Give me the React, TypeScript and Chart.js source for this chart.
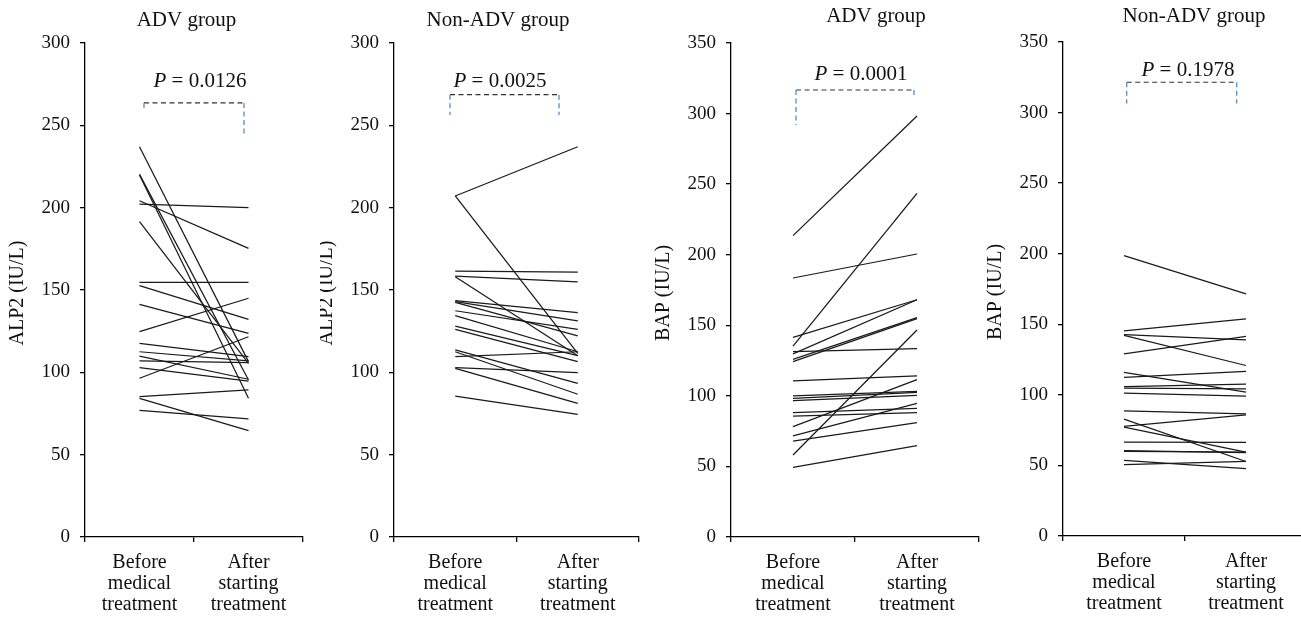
import React, { useEffect, useRef } from 'react';
import { Chart, registerables } from 'chart.js';

Chart.register(...registerables);

const FONT = '"Liberation Serif", "Times New Roman", serif';

// Category labels (x axis)
const categories = [
  ['Before', 'medical', 'treatment'],
  ['After', 'starting', 'treatment'],
];

// ALP2 (IU/L), ADV group
const alpAdvBefore = [237.0, 220.2, 219.8, 204.2, 202.2, 191.5, 154.7, 152.6, 141.3, 124.7, 117.6, 112.5, 109.9, 106.9, 102.8, 96.4, 85.2, 84.2, 76.9];
const alpAdvAfter = [106.5, 95.3, 84.2, 175.3, 200.0, 105.5, 154.7, 132.2, 123.7, 145.0, 109.5, 107.0, 95.8, 105.9, 94.7, 121.6, 89.3, 64.6, 71.7];

// ALP2 (IU/L), Non-ADV group
const alpNonBefore = [207.1, 207.1, 161.5, 158.5, 158.1, 143.5, 142.9, 142.5, 137.4, 134.4, 128.1, 126.1, 113.6, 112.5, 109.5, 102.8, 102.4, 85.6];
const alpNonAfter = [237.0, 111.5, 160.9, 155.0, 110.1, 136.2, 131.2, 122.1, 126.1, 112.5, 110.1, 106.5, 93.3, 86.7, 112.5, 99.8, 81.2, 74.5];

// BAP (IU/L), ADV group
const bapAdvBefore = [213.5, 183.5, 141.5, 135.3, 131.3, 129.7, 125.9, 124.2, 110.7, 99.9, 98.3, 96.6, 88.1, 85.7, 78.2, 71.6, 68.0, 58.1, 49.4];
const bapAdvAfter = [298.3, 200.5, 168.1, 243.5, 133.4, 168.1, 155.4, 154.7, 114.1, 103.2, 102.5, 100.4, 91.2, 88.1, 111.5, 94.7, 81.0, 146.7, 64.7];

// BAP (IU/L), Non-ADV group
const bapNonBefore = [198.7, 145.4, 142.6, 142.1, 129.1, 115.9, 112.3, 105.9, 104.7, 101.2, 88.7, 82.8, 77.6, 77.1, 66.5, 60.4, 59.9, 53.5, 50.5];
const bapNonAfter = [171.6, 153.9, 139.0, 120.8, 141.4, 101.9, 116.6, 107.6, 104.3, 99.1, 86.6, 52.8, 85.9, 59.4, 66.3, 59.0, 59.4, 47.7, 52.8];

// Panel texts
const panelTitles = ['ADV group', 'Non-ADV group', 'ADV group', 'Non-ADV group'];
const yTitles = ['ALP2 (IU/L)', 'ALP2 (IU/L)', 'BAP (IU/L)', 'BAP (IU/L)'];
const pValues = ['0.0126', '0.0025', '0.0001', '0.1978'];
const yMaxes = [300, 300, 350, 350];

type Layout = {
  cl: number; cw: number; axisL: number; axisR: number; top: number; bottom: number;
  titleX: number; titleBase: number; pX: number; pBase: number; yTitleX: number;
  bTop: number; bLeft: number; bRight: number; bdxL: number; bdxR: number;
};

const layouts: Layout[] = [
  { cl: 0, cw: 330, axisL: 85, axisR: 303, top: 43, bottom: 537, titleX: 186.5, titleBase: 26, pX: 200, pBase: 87, yTitleX: 18,
    bTop: 263.6, bLeft: 259.3, bRight: 243.7, bdxL: 4.5, bdxR: -4.5 },
  { cl: 320, cw: 330, axisL: 394, axisR: 639, top: 43, bottom: 537, titleX: 498, titleBase: 26, pX: 500, pBase: 87, yTitleX: 327,
    bTop: 268.6, bLeft: 256.3, bRight: 256.3, bdxL: -5.25, bdxR: -18.75 },
  { cl: 650, cw: 340, axisL: 731, axisR: 979, top: 43, bottom: 537, titleX: 876, titleBase: 21.7, pX: 861, pBase: 80, yTitleX: 664,
    bTop: 316.7, bLeft: 291.9, bRight: 311.0, bdxL: 3, bdxR: -3 },
  { cl: 980, cw: 330, axisL: 1063, axisR: 1307, top: 42, bottom: 536, titleX: 1194, titleBase: 21.7, pX: 1188, pBase: 76, yTitleX: 996,
    bTop: 321.5, bLeft: 306.4, bRight: 306.4, bdxL: 2.7, bdxR: -9.3 },
];

const seriesBefore = [alpAdvBefore, alpNonBefore, bapAdvBefore, bapNonBefore];
const seriesAfter = [alpAdvAfter, alpNonAfter, bapAdvAfter, bapNonAfter];

const X_AXIS_H = 78;
const H = 619;

function Panel({ idx }: { idx: number }) {
  const ref = useRef<HTMLCanvasElement>(null);
  const L = layouts[idx];
  useEffect(() => {
    const before = seriesBefore[idx];
    const after = seriesAfter[idx];
    const datasets = before.map((b, i) => ({
      data: [b, after[i]],
      borderColor: '#1a1a1a',
      borderWidth: 1.25,
      pointRadius: 0,
      fill: false,
      tension: 0,
    }));
    const annot = {
      id: 'annot',
      afterDraw(chart: any) {
        const ctx = chart.ctx;
        const xs = chart.scales.x;
        const ys = chart.scales.y;
        ctx.save();
        ctx.fillStyle = '#111';
        // title
        ctx.font = `21px ${FONT}`;
        ctx.textAlign = 'center';
        ctx.textBaseline = 'alphabetic';
        ctx.fillText(panelTitles[idx], L.titleX - L.cl, L.titleBase);
        // y title
        ctx.save();
        ctx.translate(L.yTitleX - L.cl, (L.top + L.bottom) / 2 + 3);
        ctx.rotate(-Math.PI / 2);
        ctx.font = `20px ${FONT}`;
        ctx.textAlign = 'center';
        ctx.textBaseline = 'middle';
        ctx.fillText(yTitles[idx], 0, 0);
        ctx.restore();
        // P value
        const italic = `italic 21px ${FONT}`;
        const reg = `21px ${FONT}`;
        ctx.font = italic;
        const w1 = ctx.measureText('P').width;
        const rest = ' = ' + pValues[idx];
        ctx.font = reg;
        const w2 = ctx.measureText(rest).width;
        const sx = L.pX - L.cl - (w1 + w2) / 2;
        ctx.textAlign = 'left';
        ctx.font = italic;
        ctx.fillText('P', sx, L.pBase);
        ctx.font = reg;
        ctx.fillText(rest, sx + w1, L.pBase);
        // bracket
        const xl = xs.getPixelForValue(0) + L.bdxL;
        const xr = xs.getPixelForValue(1) + L.bdxR;
        const yt = ys.getPixelForValue(L.bTop);
        const yl = ys.getPixelForValue(L.bLeft);
        const yr = ys.getPixelForValue(L.bRight);
        ctx.lineWidth = 1.2;
        ctx.setLineDash([5, 3.5]);
        ctx.strokeStyle = '#333';
        ctx.beginPath();
        ctx.moveTo(xl, yt);
        ctx.lineTo(xr, yt);
        ctx.stroke();
        ctx.strokeStyle = '#4a84c8';
        ctx.beginPath();
        ctx.moveTo(xl, yt);
        ctx.lineTo(xl, yl);
        ctx.moveTo(xr, yt);
        ctx.lineTo(xr, yr);
        ctx.stroke();
        ctx.restore();
      },
    };
    const chart = new Chart(ref.current as HTMLCanvasElement, {
      type: 'line',
      data: { labels: categories as any, datasets: datasets as any },
      options: {
        animation: false,
        responsive: false,
        maintainAspectRatio: false,
        layout: {
          padding: {
            left: 0,
            top: L.top,
            right: L.cl + L.cw - L.axisR,
            bottom: H - L.bottom - X_AXIS_H,
          },
        },
        plugins: { legend: { display: false }, title: { display: false }, tooltip: { enabled: false } },
        scales: {
          x: {
            type: 'category',
            offset: true,
            grid: { display: true, offset: true, drawOnChartArea: false, drawTicks: true, tickLength: 5, color: '#000', lineWidth: 1.3 },
            border: { display: true, color: '#000', width: 1.3 },
            ticks: { color: '#111', font: { family: FONT, size: 20, lineHeight: 1.05 }, padding: 10, maxRotation: 0, autoSkip: false },
            afterFit: (s: any) => { s.height = X_AXIS_H; },
          },
          y: {
            min: 0,
            max: yMaxes[idx],
            grid: { display: true, drawOnChartArea: false, drawTicks: true, tickLength: 5, color: '#000', lineWidth: 1.3 },
            border: { display: true, color: '#000', width: 1.3 },
            ticks: { stepSize: 50, color: '#111', font: { family: FONT, size: 19 }, padding: 10 },
            afterFit: (s: any) => { s.width = L.axisL - L.cl; },
          },
        },
      },
      plugins: [annot],
    });
    return () => chart.destroy();
  }, []);
  return (
    <canvas
      ref={ref}
      width={L.cw}
      height={H}
      style={{ position: 'absolute', left: L.cl, top: 0, width: L.cw, height: H }}
    />
  );
}

export default function App() {
  return (
    <div style={{ position: 'absolute', left: 0, top: 0, width: 1301, height: 619, overflow: 'hidden', background: '#fff' }}>
      {[0, 1, 2, 3].map((i) => (
        <Panel key={i} idx={i} />
      ))}
    </div>
  );
}
